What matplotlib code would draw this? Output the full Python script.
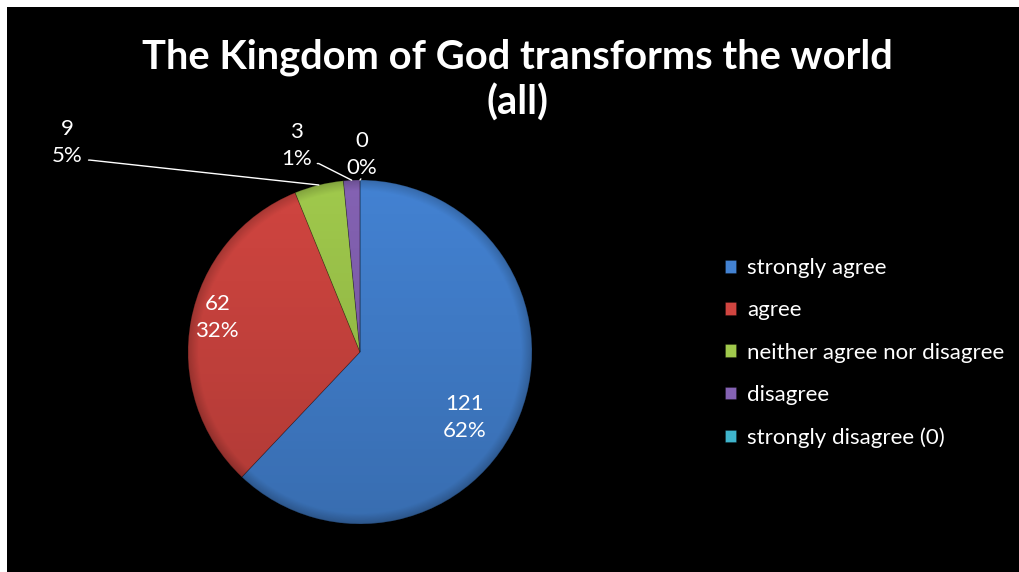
import numpy as np
import matplotlib
matplotlib.use("Agg")
from matplotlib import pyplot as plt
from matplotlib.patches import Rectangle, Circle

plt.rcParams['font.family'] = ['Lato', 'DejaVu Sans']

# chart data
categories = ['strongly agree', 'agree', 'neither agree nor disagree',
              'disagree', 'strongly disagree (0)']
counts = [121, 62, 9, 3, 0]
pct_labels = ['62%', '32%', '5%', '1%', '0%']
colors = ['#4382d2', '#d04540', '#a0c94c', '#8462b3', '#3fb4cc']

W, H = 1019, 572
fig = plt.figure(figsize=(W / 100, H / 100), dpi=100, facecolor='white')
fig.patches.append(Rectangle((7 / W, 0), 1, (H - 7) / H, transform=fig.transFigure,
                             facecolor='black', edgecolor='none', zorder=-5))

# title
fig.text(517 / W, 1 - 80 / H, 'The Kingdom of God transforms the world\n(all)',
         ha='center', va='center', color='white', fontsize=28.7, fontweight='bold',
         linespacing=1.27)

# pie axes, centre (360, 352) px, radius 172 px
cx, cy, r = 360, 352, 172
ax = fig.add_axes([(cx - r) / W, (H - cy - r) / H, 2 * r / W, 2 * r / H])
ax.set_facecolor('none')
wedges, _ = ax.pie(counts, colors=colors, startangle=90, counterclock=False,
                   radius=1.0, wedgeprops=dict(linewidth=0.6, edgecolor='#00000040'))
ax.set_xlim(-1, 1)
ax.set_ylim(-1, 1)
ax.set_aspect('equal')
ax.axis('off')

# light shading over the pie
yy, xx = np.mgrid[1:-1:300j, -1:1:300j]
rr = np.sqrt(xx ** 2 + yy ** 2)
shade = np.zeros((300, 300, 4))
alpha = 0.16 * (1 - yy) / 2 + np.clip((rr - 0.94) / 0.06, 0, 1) * 0.18
shade[..., 3] = alpha
im = ax.imshow(shade, extent=(-1, 1, -1, 1), zorder=3, interpolation='bilinear')
im.set_clip_path(Circle((0, 0), 1.0, transform=ax.transData))

# data labels (positions in pie units)
label_pos = [(0.61, -0.38), (-0.83, 0.20), (-1.70, 1.22), (-0.37, 1.20), (0.01, 1.15)]
lbl_kw = dict(color='white', fontsize=16, ha='center', va='center',
              linespacing=1.45, annotation_clip=False, zorder=5)
for i, (w, n) in enumerate(zip(wedges, counts)):
    txt = '{}\n{}'.format(n, pct_labels[i])
    if i < 2:
        ax.annotate(txt, xy=label_pos[i], **lbl_kw)
    else:
        mid = np.radians((w.theta1 + w.theta2) / 2)
        target = (np.cos(mid), np.sin(mid))
        if n == 0:
            arrow = dict(arrowstyle='-', color='white', lw=1, relpos=(0.5, 0),
                         shrinkA=1, shrinkB=0)
        else:
            arrow = dict(arrowstyle='-', color='white', lw=1, relpos=(1, 0.12),
                         shrinkA=2, shrinkB=0,
                         connectionstyle='arc,angleA=0,armA=7,angleB=0,armB=0,rad=0')
        ax.annotate(txt, xy=target, xytext=label_pos[i], arrowprops=arrow, **lbl_kw)

# legend
handles = list(wedges)
leg = fig.legend(handles, categories, loc='center left',
                 bbox_to_anchor=(705 / W, 1 - 353 / H), frameon=False,
                 fontsize=16, labelcolor='white', handlelength=0.5,
                 handleheight=0.5, handletextpad=0.5, labelspacing=1.0)

fig.savefig('out.png', dpi=100, facecolor=fig.get_facecolor())
